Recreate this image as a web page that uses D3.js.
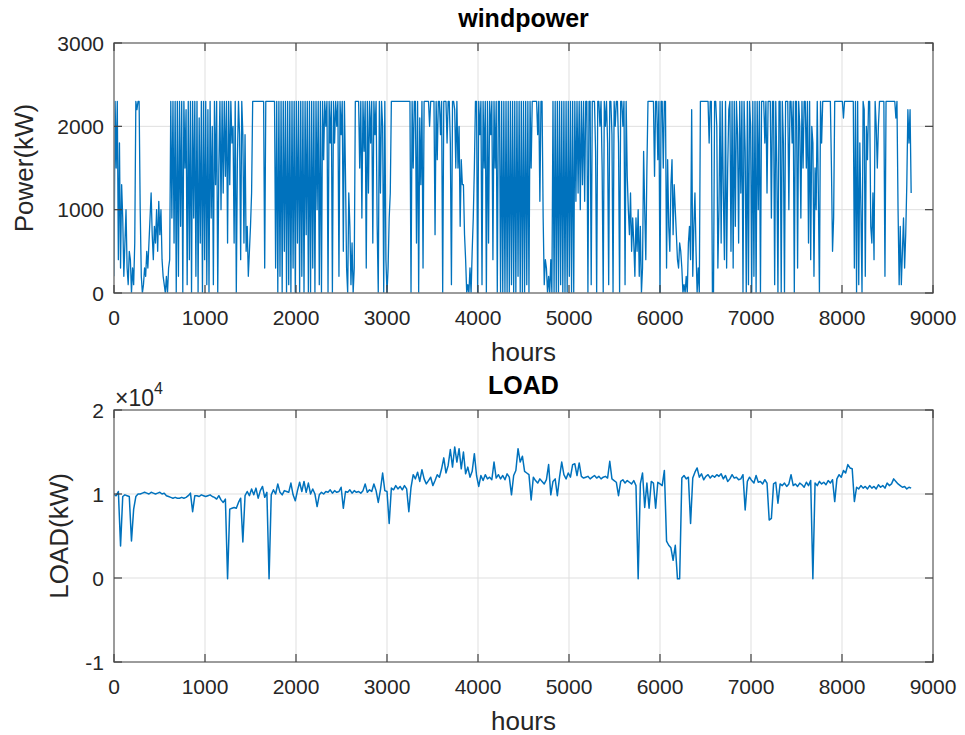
<!DOCTYPE html>
<html>
<head>
<meta charset="utf-8">
<script src="https://cdn.jsdelivr.net/npm/d3@7"></script>
<style>
  html, body { margin: 0; padding: 0; background: #fff; }
  svg { display: block; font-family: "Liberation Sans", Arial, Helvetica, sans-serif; }
</style>
</head>
<body>
<svg id="chart" width="965" height="735"></svg>
<script>
// Sampling intervals (hours) of the two yearly series, 0 .. 8760 h
const windStep = 12;
const loadStep = 24;

// Wind turbine output, kW (one value every 12 h)
const windPower = [
  200, 2300, 1500, 2300, 400, 1800, 300, 1300, 900, 200, 600, 1000, 300, 100, 500, 400, 0, 300, 100, 600,
  2300, 2200, 2300, 2300, 1000, 200, 0, 100, 300, 200, 500, 300, 600, 900, 1200, 700, 400, 800, 600, 1000,
  500, 1100, 700, 1000, 400, 200, 100, 0, 200, 0, 300, 400, 2300, 900, 2300, 600, 2300, 0, 2300, 200,
  2300, 800, 2300, 0, 2300, 1500, 2200, 100, 2300, 400, 2300, 0, 2300, 900, 2300, 200, 2300, 0, 2100, 600,
  2300, 0, 2300, 400, 2300, 100, 2200, 0, 2300, 900, 2000, 100, 2300, 1300, 2300, 0, 1500, 2300, 1000, 2300,
  1200, 2300, 1400, 2300, 600, 2300, 1300, 2300, 1800, 2000, 600, 2300, 0, 1600, 2300, 1900, 400, 2300, 1900, 600,
  1900, 500, 800, 200, 500, 800, 1200, 2300, 2300, 2300, 2300, 2300, 2300, 2300, 2300, 2300, 2300, 2300, 300, 2300,
  2300, 2300, 2300, 2300, 2300, 2300, 2300, 2300, 300, 2300, 0, 2300, 200, 2300, 0, 2300, 500, 2300, 0, 2300,
  100, 2300, 0, 2300, 300, 2300, 0, 2300, 600, 2300, 0, 2300, 200, 2300, 0, 2300, 700, 2300, 0, 2300,
  0, 2300, 300, 2300, 0, 2300, 1000, 2300, 100, 2300, 0, 2300, 1600, 2300, 2000, 2300, 0, 2300, 1800, 2300,
  0, 2300, 1800, 2300, 2000, 2300, 200, 2300, 1900, 2300, 500, 2300, 1400, 300, 0, 1200, 800, 100, 600, 0,
  300, 2300, 2300, 2300, 2300, 1500, 2300, 900, 2300, 1700, 2300, 300, 2300, 1200, 2300, 1800, 2300, 600, 2300, 1900,
  2300, 800, 0, 2300, 1200, 2300, 2000, 0, 2300, 400, 0, 300, 900, 1200, 2300, 2300, 2300, 2300, 2300, 2300,
  2300, 2300, 2300, 2300, 2300, 2300, 2300, 2300, 2300, 2300, 2300, 2300, 0, 2300, 1500, 2300, 2300, 600, 2300, 0,
  2100, 1300, 2300, 300, 2300, 2300, 2300, 2300, 2300, 2000, 2300, 2300, 2300, 2300, 700, 2300, 1600, 2300, 2300, 1900,
  2300, 0, 2300, 2300, 2300, 1800, 2300, 2300, 1800, 100, 2300, 2300, 2200, 1500, 2300, 1500, 2000, 800, 1600, 1300,
  1300, 700, 400, 0, 100, 0, 300, 0, 500, 900, 1500, 2300, 2300, 0, 2300, 1900, 2300, 100, 2300, 1500,
  2300, 0, 2300, 600, 2300, 1900, 2300, 400, 2300, 1500, 2300, 0, 2300, 2300, 0, 2300, 0, 2300, 0, 2300,
  0, 2300, 0, 2300, 100, 2300, 0, 2300, 0, 2300, 200, 2300, 0, 2300, 0, 2300, 0, 2300, 100, 2300,
  0, 2300, 1500, 2300, 2300, 2300, 2300, 2300, 1900, 2300, 1100, 2300, 2300, 900, 100, 400, 300, 0, 200, 0,
  400, 0, 2300, 0, 2300, 0, 2300, 0, 2300, 100, 2300, 0, 2300, 0, 2300, 0, 2300, 200, 2300, 0,
  2300, 0, 2300, 1100, 2300, 1200, 2300, 1000, 2300, 1300, 2300, 1100, 2300, 2300, 0, 2300, 2300, 100, 2300, 2300,
  2300, 1700, 0, 2300, 2300, 2000, 2300, 1500, 0, 2300, 2000, 2300, 1800, 100, 2300, 2300, 1900, 0, 2300, 2000,
  2300, 2300, 1800, 0, 2300, 2300, 2000, 2300, 100, 2300, 1400, 1000, 700, 1200, 500, 900, 600, 200, 900, 500,
  1000, 200, 800, 0, 300, 1700, 1000, 400, 1500, 2300, 2300, 2300, 2300, 2300, 2300, 1400, 2300, 2300, 1600, 2300,
  0, 2300, 2300, 1500, 2300, 2300, 300, 1600, 800, 500, 1300, 1600, 700, 1300, 1000, 700, 400, 300, 600, 500,
  300, 0, 100, 0, 200, 0, 600, 800, 400, 2200, 200, 800, 1200, 500, 0, 300, 0, 2300, 2300, 2300,
  2300, 2300, 2300, 2300, 2300, 1800, 2300, 2300, 0, 0, 2300, 2300, 2000, 300, 1000, 2300, 600, 2300, 1200, 400,
  2300, 300, 1500, 2200, 2300, 500, 2300, 300, 2300, 800, 2300, 1900, 600, 2300, 1200, 2300, 0, 2300, 1700, 0,
  2300, 100, 2300, 2000, 0, 2300, 200, 2300, 0, 2300, 1000, 2300, 0, 2300, 2300, 2300, 1800, 2300, 1200, 2300,
  2300, 2300, 900, 2300, 2300, 100, 2300, 1500, 0, 2300, 2300, 0, 2300, 1800, 0, 2300, 2300, 2300, 1000, 2300,
  2300, 1800, 2300, 0, 2300, 2300, 300, 2300, 2000, 900, 2300, 1500, 2300, 2300, 1500, 2300, 600, 2300, 400, 2000,
  1800, 200, 1500, 1000, 2300, 1200, 0, 2300, 1800, 2300, 2300, 2300, 2300, 2300, 2300, 2300, 2300, 1500, 500, 900,
  2300, 2300, 2300, 2300, 2300, 2300, 2300, 2300, 2100, 2300, 2300, 2300, 2300, 2300, 2300, 2300, 2300, 2300, 300, 2300,
  0, 2300, 100, 1800, 1000, 0, 2300, 2200, 200, 2000, 1600, 2300, 2300, 800, 600, 1200, 400, 2300, 2000, 1500,
  2000, 2300, 2300, 2300, 2300, 2300, 200, 2300, 2300, 2300, 2300, 2300, 2300, 2300, 2300, 2300, 2100, 2300, 1000, 100,
  800, 100, 500, 900, 300, 700, 1300, 2200, 1800, 2200, 1200
];

// Electrical load, kW (one value every 24 h)
const loadPower = [
  9900, 9800, 10300, 3800, 9700, 9900, 9800, 9700, 4400, 8200,
  9700, 10000, 10000, 10100, 10200, 10100, 10000, 10200, 10100, 10000,
  10100, 10200, 10000, 10100, 9800, 9700, 9600, 9500, 9600, 9500,
  9500, 9600, 9500, 9600, 9800, 10100, 7900, 9800, 9800, 9700,
  9900, 9800, 9700, 9800, 9900, 9700, 9600, 9400, 9800, 9300,
  9000, 9400, -100, 8200, 8300, 8400, 8300, 9000, 9500, 4300,
  9800, 10300, 9800, 10600, 9900, 10700, 9500, 10400, 10900, 9600,
  10200, -100, 9900, 10500, 10000, 11200, 10200, 9900, 10400, 10300,
  10200, 11300, 9900, 9200, 10400, 11400, 10300, 11500, 10200, 11300,
  10000, 10600, 10000, 8500, 9900, 10200, 10000, 10300, 10200, 10500,
  10100, 10400, 10200, 10300, 10800, 8300, 10300, 10200, 10500, 10100,
  10400, 10200, 10300, 10100, 10400, 11200, 10200, 10500, 10300, 11200,
  10400, 9000, 10500, 12500, 10400, 10300, 6500, 10700, 10500, 11000,
  10600, 10900, 10500, 11000, 10600, 7900, 10800, 12300, 11800, 12600,
  11500, 12900, 11800, 11200, 11600, 12000, 11000, 11600, 12300, 12000,
  13000, 14300, 12500, 13400, 15300, 13200, 15600, 13800, 15400, 13000,
  15000, 12400, 13200, 12000, 12700, 14800, 12200, 10900, 12200, 11600,
  12300, 11800, 12000, 11700, 13800, 11900, 12300, 11800, 12200, 11700,
  12400, 12000, 9900, 12200, 12800, 15400, 13800, 14500, 12700, 12500,
  12300, 9300, 12000, 11600, 11300, 11800, 11500, 11200, 11700, 13500,
  9900, 11500, 11800, 9800, 12000, 13800, 12300, 11800, 12500, 12000,
  13500, 13600, 12200, 13700, 12100, 11900, 12000, 12100, 11800, 12000,
  12200, 11900, 12100, 11800, 12000, 12100, 11900, 13900, 11800, 11600,
  11400, 9800, 11500, 11700, 11300, 11600, 11400, 11200, 11600, 11000,
  -100, 11200, 12500, 8400, 11300, 8300, 11500, 11300, 8300, 11400,
  11200, 11000, 12800, 4400, 3900, 3600, 2100, 3900, -100, -100,
  11900, 12200, 11800, 12000, 6500, 11900, 12600, 13100, 12000, 12400,
  11700, 12100, 12300, 11900, 12200, 12000, 12300, 12100, 12400, 11800,
  12200, 11500, 11800, 12300, 11900, 12000, 11700, 11800, 12300, 8100,
  11500, 12000, 11600, 11300, 12200, 11400, 11500, 11200, 11700, 11300,
  6900, 7100, 11200, 11400, 8900, 11200, 11000, 11300, 10900, 11200,
  12300, 11000, 11200, 10900, 11300, 11100, 10800, 11400, 11000, 11600,
  -100, 11300, 11000, 11500, 11200, 11400, 11100, 11600, 11300, 11700,
  9100, 11800, 12300, 12000, 12800, 12500, 13500, 13100, 13000, 9100,
  10800, 10600, 11000, 10700, 10900, 10600, 11000, 10700, 10900, 10600,
  11100, 10800, 11000, 10700, 11300, 11000, 11200, 11800, 11500, 11200,
  11000, 10800, 10900, 10600, 10800, 10700
];

// Axis ticks
const hourTicks = [0, 1000, 2000, 3000, 4000, 5000, 6000, 7000, 8000, 9000];
const windTicks = [0, 1000, 2000, 3000];
const loadTicks = [-10000, 0, 10000, 20000];
const loadTickLabels = ["-1", "0", "1", "2"];

const svg = d3.select("#chart");
const lineColor = "#0072BD";
const textColor = "#262626";
const tickFont = 21;

function drawPanel(opts) {
  const { top, bottom, left, right, yDomain, yTicks, yTickLabels, series, step,
          lineWidth, title, yLabel, yLabelX, clipId } = opts;
  const x = d3.scaleLinear().domain([0, 9000]).range([left, right]);
  const y = d3.scaleLinear().domain(yDomain).range([bottom, top]);
  const g = svg.append("g");

  // grid
  g.append("g").selectAll("line").data(hourTicks).join("line")
    .attr("x1", d => x(d)).attr("x2", d => x(d))
    .attr("y1", top).attr("y2", bottom)
    .attr("stroke", "#dfdfdf").attr("stroke-width", 1);
  g.append("g").selectAll("line").data(yTicks).join("line")
    .attr("y1", d => y(d)).attr("y2", d => y(d))
    .attr("x1", left).attr("x2", right)
    .attr("stroke", "#dfdfdf").attr("stroke-width", 1);

  // data line
  svg.append("clipPath").attr("id", clipId).append("rect")
    .attr("x", left).attr("y", top).attr("width", right - left).attr("height", bottom - top);
  const line = d3.line().x((d, i) => x(i * step)).y(d => y(d));
  g.append("path").datum(series)
    .attr("clip-path", `url(#${clipId})`)
    .attr("fill", "none").attr("stroke", lineColor)
    .attr("stroke-width", lineWidth).attr("stroke-linejoin", "round")
    .attr("d", line);

  // axes box
  g.append("rect").attr("x", left).attr("y", top)
    .attr("width", right - left).attr("height", bottom - top)
    .attr("fill", "none").attr("stroke", "#808080").attr("stroke-width", 1.5);

  // inward ticks on all four sides
  const tl = 8;
  const tg = g.append("g").attr("stroke", "#404040").attr("stroke-width", 1.2);
  hourTicks.forEach(t => {
    tg.append("line").attr("x1", x(t)).attr("x2", x(t)).attr("y1", bottom).attr("y2", bottom - tl);
    tg.append("line").attr("x1", x(t)).attr("x2", x(t)).attr("y1", top).attr("y2", top + tl);
  });
  yTicks.forEach(t => {
    tg.append("line").attr("x1", left).attr("x2", left + tl).attr("y1", y(t)).attr("y2", y(t));
    tg.append("line").attr("x1", right).attr("x2", right - tl).attr("y1", y(t)).attr("y2", y(t));
  });

  // tick labels
  g.append("g").selectAll("text").data(hourTicks).join("text")
    .attr("x", d => x(d)).attr("y", bottom + 32)
    .attr("text-anchor", "middle").attr("font-size", tickFont).attr("fill", textColor)
    .text(d => d);
  g.append("g").selectAll("text").data(yTicks).join("text")
    .attr("x", left - 10).attr("y", d => y(d) + 7.5)
    .attr("text-anchor", "end").attr("font-size", tickFont).attr("fill", textColor)
    .text((d, i) => yTickLabels[i]);

  // axis labels and title
  g.append("text").attr("x", (left + right) / 2).attr("y", bottom + 68)
    .attr("text-anchor", "middle").attr("font-size", 26).attr("fill", textColor)
    .text("hours");
  g.append("text")
    .attr("transform", `translate(${yLabelX},${(top + bottom) / 2}) rotate(-90)`)
    .attr("text-anchor", "middle").attr("font-size", 26).attr("fill", textColor)
    .text(yLabel);
  g.append("text").attr("x", (left + right) / 2).attr("y", top - 16)
    .attr("text-anchor", "middle").attr("font-size", 25).attr("font-weight", "bold")
    .attr("fill", "#000").text(title);

  return { x, y, g };
}

drawPanel({
  top: 43, bottom: 293, left: 114, right: 933,
  yDomain: [0, 3000], yTicks: windTicks, yTickLabels: windTicks.map(String),
  series: windPower, step: windStep, lineWidth: 1.3,
  title: "windpower", yLabel: "Power(kW)", yLabelX: 33, clipId: "clipWind"
});

const loadPanel = drawPanel({
  top: 410, bottom: 662, left: 114, right: 933,
  yDomain: [-10000, 20000], yTicks: loadTicks, yTickLabels: loadTickLabels,
  series: loadPower, step: loadStep, lineWidth: 1.5,
  title: "LOAD", yLabel: "LOAD(kW)", yLabelX: 68, clipId: "clipLoad"
});

// exponent marker for the load axis
const expo = loadPanel.g.append("text").attr("x", 115).attr("y", 406)
  .attr("font-size", 23).attr("fill", textColor);
expo.append("tspan").text("\u00D710");
expo.append("tspan").attr("dy", -12).attr("font-size", 16).text("4");
</script>
</body>
</html>
